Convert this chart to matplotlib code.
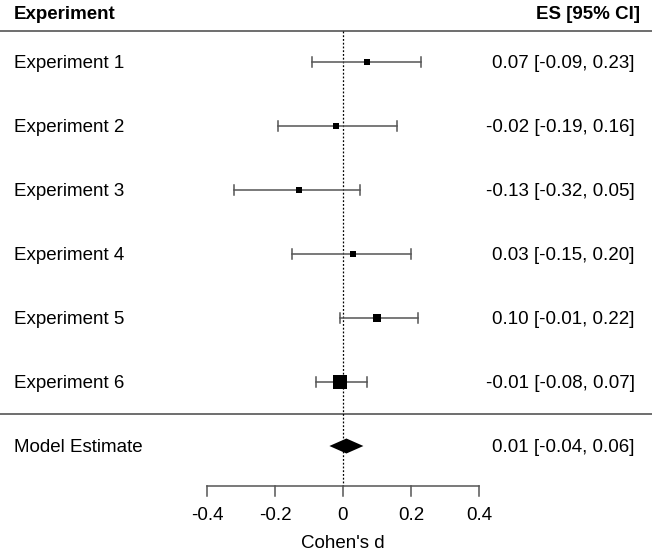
import matplotlib

matplotlib.use("Agg")

import matplotlib.pyplot as plt
import numpy as np

plt.rcParams["font.family"] = ["Liberation Sans", "DejaVu Sans"]

# ── Data ─────────────────────────────────────────────────────────────────────

studies = ["Experiment 1", "Experiment 2", "Experiment 3",
           "Experiment 4", "Experiment 5", "Experiment 6"]
es = [0.07, -0.02, -0.13, 0.03, 0.10, -0.01]
ci_lo = [-0.09, -0.19, -0.32, -0.15, -0.01, -0.08]
ci_hi = [0.23, 0.16, 0.05, 0.20, 0.22, 0.07]
weights = [1.0, 1.0, 1.0, 1.0, 1.4, 2.6]  # relative square size

model_label = "Model Estimate"
model_es, model_lo, model_hi = 0.01, -0.04, 0.06

xticks = [-0.4, -0.2, 0, 0.2, 0.4]
xtick_labels = ["-0.4", "-0.2", "0", "0.2", "0.4"]

# ── Layout (pixel space vertically) ──────────────────────────────────────────

W, H = 652, 555
px_per_unit = 340.0
x0_px = 343.0
row0, row_step = 62, 64
fs = 13.5
grey = "#555555"
dy = 1.5  # text nudge so caps sit centred on the row

fig = plt.figure(figsize=(W / 100, H / 100), dpi=100)
ax = fig.add_axes([0, 0, 1, 1])
ax.set_xlim(-x0_px / px_per_unit, (W - x0_px) / px_per_unit)
ax.set_ylim(H, 0)
ax.axis("off")

def px(x):
    return x / px_per_unit  # pixel width -> data width

rows = [row0 + row_step * i for i in range(len(studies))]
model_y = row0 + row_step * len(studies)
x_left = ax.get_xlim()[0]
x_right = ax.get_xlim()[1]
label_x = x_left + px(14)
value_x = x_right - px(17)

# header
ax.text(label_x, 13 + dy, "Experiment", fontsize=fs, fontweight="bold", va="center", ha="left")
ax.text(x_right - px(12), 13 + dy, "ES [95% CI]", fontsize=fs, fontweight="bold",
        va="center", ha="right")
ax.plot([x_left, x_right], [31, 31], color=grey, lw=1.2)
ax.plot([x_left, x_right], [414, 414], color=grey, lw=1.2)

# reference line
ax.plot([0, 0], [31, 486], color="black", lw=0.9, ls=(0, (1.5, 1.5)))

# studies
for name, m, lo, hi, w, y in zip(studies, es, ci_lo, ci_hi, weights, rows):
    ax.plot([lo, hi], [y, y], color=grey, lw=1.1)
    ax.plot([lo, lo], [y - 5, y + 5], color=grey, lw=1.1)
    ax.plot([hi, hi], [y - 5, y + 5], color=grey, lw=1.1)
    ax.plot([m], [y], marker="s", color="black", ms=3.8 * w, mew=0, ls="none")
    ax.text(label_x, y + dy, name, fontsize=fs, va="center", ha="left")
    ax.text(value_x, y + dy, f"{m:.2f} [{lo:.2f}, {hi:.2f}]", fontsize=fs,
            va="center", ha="right")

# model diamond
ax.fill([model_lo, model_es, model_hi, model_es],
        [model_y, model_y - 7.5, model_y, model_y + 7.5], color="black", lw=0)
ax.text(label_x, model_y + dy, model_label, fontsize=fs, va="center", ha="left")
ax.text(value_x, model_y + dy, f"{model_es:.2f} [{model_lo:.2f}, {model_hi:.2f}]",
        fontsize=fs, va="center", ha="right")

# x axis
axis_y = 486
ax.plot([xticks[0], xticks[-1]], [axis_y, axis_y], color=grey, lw=1.1)
for t, lab in zip(xticks, xtick_labels):
    ax.plot([t, t], [axis_y, axis_y + 10], color=grey, lw=1.1)
    ax.text(t, 514 + dy, lab, fontsize=fs, va="center", ha="center")
ax.text(0, 542 + dy, "Cohen's d", fontsize=fs, va="center", ha="center")

fig.savefig("out.png", dpi=100, facecolor="white")
